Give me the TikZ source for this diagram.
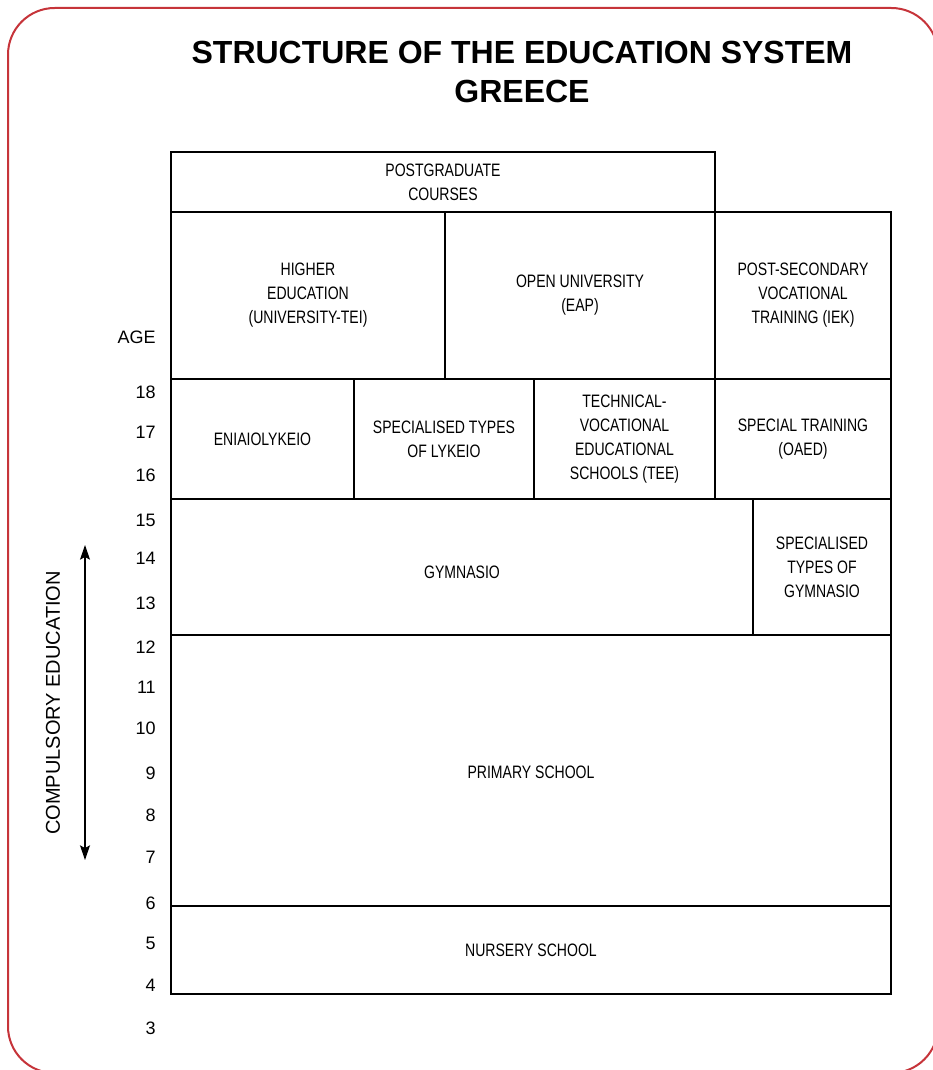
\documentclass[tikz,border=0pt]{standalone}
\usepackage{fontspec}
\setmainfont{Liberation Sans}
\newfontfamily\narrowfont[FakeStretch=0.78]{Liberation Sans}
\usetikzlibrary{arrows.meta}
\definecolor{framered}{RGB}{198,52,58}

\begin{document}
\begin{tikzpicture}[x=0.75pt, y=-0.75pt]
        \tikzstyle{every node}=[inner sep=0pt]
        \tikzstyle{box}=[draw, line width=1.5pt]
        \tikzstyle{school}=[align=center, font=\narrowfont\fontsize{13.5}{18}\selectfont]
        \tikzstyle{age}=[anchor=east, font=\fontsize{13.5}{16}\selectfont]
        \useasboundingbox (0,0) rectangle (932,1070);
        \draw [framered, line width=1.5pt, rounded corners=35pt] (8,8) rectangle (938,1073);
        \node [align=center, font=\bfseries\fontsize{24}{29}\selectfont] (title) at (522,72) {STRUCTURE OF THE EDUCATION SYSTEM\\GREECE};
        \draw [box] (171,152) rectangle node [school] (postgrad) {POSTGRADUATE\\COURSES} (715,212);
        \draw [box] (171,212) rectangle node [school] (higher) {HIGHER\\EDUCATION\\(UNIVERSITY-TEI)} (445,379);
        \draw [box] (445,212) rectangle node [school] (openuni) {OPEN UNIVERSITY\\(EAP)} (715,379);
        \draw [box] (715,212) rectangle node [school] (iek) {POST-SECONDARY\\VOCATIONAL\\TRAINING (IEK)} (891,379);
        \draw [box] (171,379) rectangle node [school] (eniaio) {ENIAIOLYKEIO} (354,499);
        \draw [box] (354,379) rectangle node [school] (speclyk) {SPECIALISED TYPES\\OF LYKEIO} (534,499);
        \draw [box] (534,379) rectangle node [school] (tee) {TECHNICAL-\\VOCATIONAL\\EDUCATIONAL\\SCHOOLS (TEE)} (715,499);
        \draw [box] (715,379) rectangle node [school] (oaed) {SPECIAL TRAINING\\(OAED)} (891,499);
        \draw [box] (171,499) rectangle node [school, yshift=-4pt] (gymnasio) {GYMNASIO} (753,635);
        \draw [box] (753,499) rectangle node [school] (specgym) {SPECIALISED\\TYPES OF\\GYMNASIO} (891,635);
        \draw [box] (171,635) rectangle node [school, yshift=-1pt] (primary) {PRIMARY SCHOOL} (891,906);
        \draw [box] (171,906) rectangle node [school] (nursery) {NURSERY SCHOOL} (891,994);
        \node [age] (agehead) at (156,337) {AGE};
        \foreach \a/\y in {18/392, 17/432, 16/475, 15/520, 14/558, 13/603, 12/647, 11/687, 10/728, 9/773, 8/815, 7/857, 6/903, 5/943, 4/985, 3/1028}
            \node [age] (age\a) at (156,\y) {\a};
        \coordinate (comptop) at (85,545);
        \coordinate (compbot) at (85,860);
        \draw [{Stealth[length=11pt,width=7.5pt,inset=2pt]}-{Stealth[length=11pt,width=7.5pt,inset=2pt]}, line width=1pt] (comptop) -- (compbot);
        \node [rotate=90, font=\fontsize{15}{17}\selectfont] (compulsory) at (53,703) {COMPULSORY EDUCATION};
    \end{tikzpicture}
\end{document}
